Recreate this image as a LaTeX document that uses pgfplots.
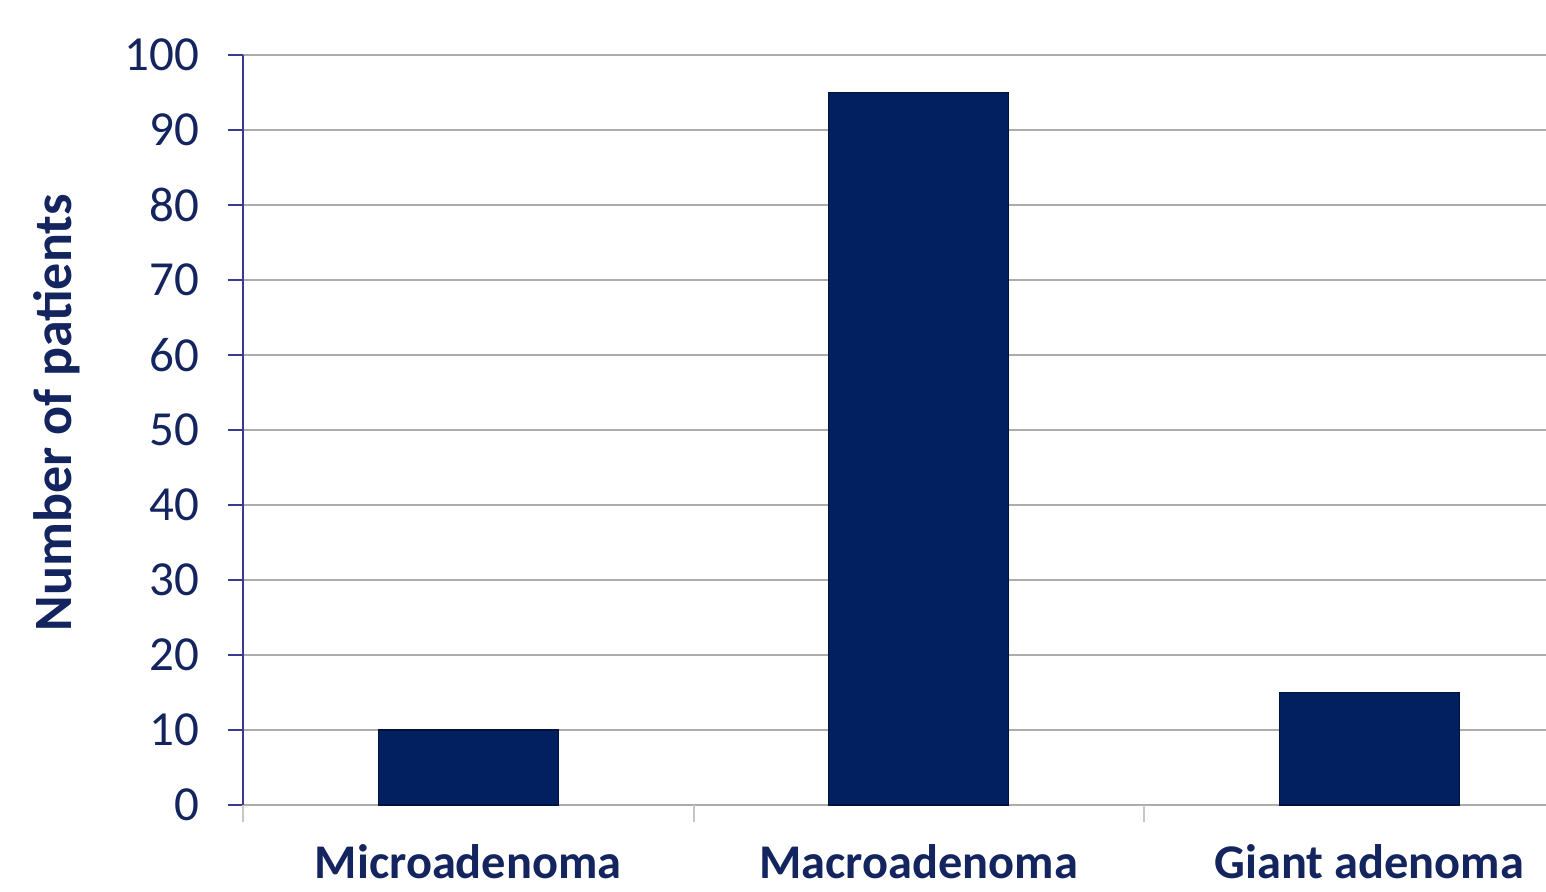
\documentclass[border=0pt]{standalone}
\usepackage{pgfplots}
\pgfplotsset{compat=1.18}
\usepackage{fontspec}
\setmainfont{Carlito}
\definecolor{barnavy}{HTML}{02205F}
\definecolor{baredge}{HTML}{01133D}
\definecolor{textnavy}{HTML}{13245F}
\definecolor{spine}{HTML}{3A3A94}
\definecolor{gridgray}{HTML}{ACACAC}
\definecolor{tickgray}{HTML}{C6C6C6}
\begin{document}
\begin{tikzpicture}
% page frame
\useasboundingbox (-121.5pt,-43pt) rectangle (651.5pt,402.5pt);
\begin{axis}[
  scale only axis,
  width=651.5pt, height=375pt,
  xmin=-0.5, xmax=2.392,
  ymin=0, ymax=100,
  axis x line*=bottom,
  axis y line*=left,
  x axis line style={draw=gridgray, line width=1pt, -},
  y axis line style={draw=spine, line width=1pt, -},
  ytick={0,10,...,100},
  ymajorgrids,
  grid style={draw=gridgray, line width=1pt},
  y tick style={draw=spine, line width=1pt},
  tick align=outside,
  major tick length=7.5pt,
  xtick={0,1,2},
  xticklabels={Microadenoma, Macroadenoma, Giant adenoma},
  x tick style={draw=none},
  extra x ticks={-0.5,0.5,1.5},
  extra x tick labels={},
  extra x tick style={grid=none, x tick style={draw=tickgray, line width=1pt}, major tick length=8.5pt},
  xticklabel style={font=\fontsize{24.2}{28}\selectfont\bfseries, text=textnavy,
    text depth=0pt, inner sep=1pt, yshift=-11pt},
  yticklabel style={font=\fontsize{24.5}{28}\selectfont, text=textnavy, xshift=-11pt},
  /pgf/number format/assume math mode=true,
  ylabel={Number of patients},
  ylabel style={font=\fontsize{27}{31}\selectfont\bfseries, text=textnavy,
    at={(axis description cs:-0.1428,0.523)}, anchor=center},
  clip=false,
]
\addplot[ybar, bar width=90pt, fill=barnavy, draw=baredge, line width=0.6pt]
  coordinates {(0,10) (1,95) (2,15)};
\end{axis}
\end{tikzpicture}
\end{document}
